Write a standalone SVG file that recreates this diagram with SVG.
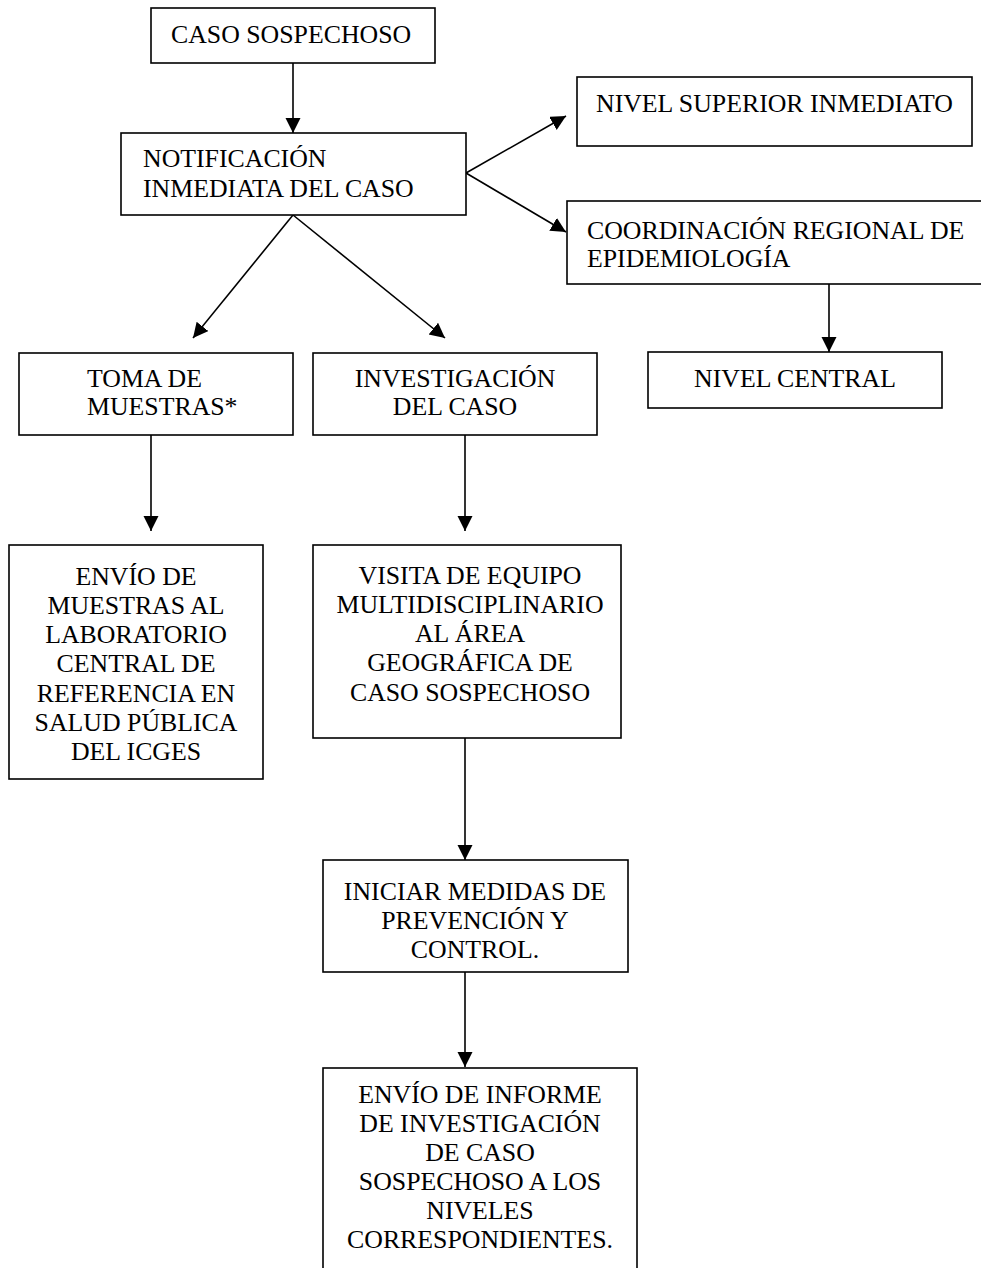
<svg xmlns="http://www.w3.org/2000/svg" width="981" height="1268" viewBox="0 0 981 1268">
<style>
.box{fill:#fff;stroke:#000;stroke-width:1.6}
text{font-family:"Liberation Serif","Times New Roman",serif;font-size:25.8px;fill:#000}
.c{text-anchor:middle}
.ln{stroke:#000;stroke-width:1.6;fill:none;marker-end:url(#ah)}
</style>
<defs>
<marker id="ah" markerUnits="userSpaceOnUse" markerWidth="16" markerHeight="16" refX="15" refY="7.5" orient="auto" viewBox="0 0 16 16">
<path d="M0,0 L15,7.5 L0,15 Z" fill="#000"/>
</marker>
</defs>
<rect width="981" height="1268" fill="#fff"/>
<g id="connectors">
<line class="ln" x1="293" y1="63" x2="293" y2="133"/>
<line class="ln" x1="466" y1="173" x2="566" y2="116"/>
<line class="ln" x1="466" y1="173" x2="566" y2="232"/>
<line class="ln" x1="829" y1="284" x2="829" y2="352"/>
<line class="ln" x1="293" y1="215" x2="193" y2="338"/>
<line class="ln" x1="293" y1="215" x2="445" y2="338"/>
<line class="ln" x1="151" y1="435" x2="151" y2="531"/>
<line class="ln" x1="465" y1="435" x2="465" y2="531"/>
<line class="ln" x1="465" y1="738" x2="465" y2="860"/>
<line class="ln" x1="465" y1="972" x2="465" y2="1067"/>
</g>
<g id="caso">
<rect class="box" x="151" y="8" width="284" height="55"/>
<text x="171" y="43">CASO SOSPECHOSO</text>
</g>
<g id="notificacion">
<rect class="box" x="121" y="133" width="345" height="82"/>
<text x="143" y="167">NOTIFICACIÓN</text>
<text x="143" y="197">INMEDIATA DEL CASO</text>
</g>
<g id="nivel-superior">
<rect class="box" x="577" y="77" width="395" height="69"/>
<text x="596" y="112">NIVEL SUPERIOR INMEDIATO</text>
</g>
<g id="coordinacion">
<rect class="box" x="567" y="201" width="416" height="83"/>
<text x="587" y="239">COORDINACIÓN REGIONAL DE</text>
<text x="587" y="267">EPIDEMIOLOGÍA</text>
</g>
<g id="nivel-central">
<rect class="box" x="648" y="352" width="294" height="56"/>
<text class="c" x="795" y="387">NIVEL CENTRAL</text>
</g>
<g id="toma">
<rect class="box" x="19" y="353" width="274" height="82"/>
<text x="87" y="387">TOMA DE</text>
<text x="87" y="415">MUESTRAS*</text>
</g>
<g id="investigacion">
<rect class="box" x="313" y="353" width="284" height="82"/>
<text class="c" x="455" y="387">INVESTIGACIÓN</text>
<text class="c" x="455" y="415">DEL CASO</text>
</g>
<g id="envio-muestras">
<rect class="box" x="9" y="545" width="254" height="234"/>
<text class="c" x="136" y="585">ENVÍO DE</text>
<text class="c" x="136" y="614">MUESTRAS AL</text>
<text class="c" x="136" y="643">LABORATORIO</text>
<text class="c" x="136" y="672">CENTRAL DE</text>
<text class="c" x="136" y="702">REFERENCIA EN</text>
<text class="c" x="136" y="731">SALUD PÚBLICA</text>
<text class="c" x="136" y="760">DEL ICGES</text>
</g>
<g id="visita">
<rect class="box" x="313" y="545" width="308" height="193"/>
<text class="c" x="470" y="584">VISITA DE EQUIPO</text>
<text class="c" x="470" y="613">MULTIDISCIPLINARIO</text>
<text class="c" x="470" y="642">AL ÁREA</text>
<text class="c" x="470" y="671">GEOGRÁFICA DE</text>
<text class="c" x="470" y="701">CASO SOSPECHOSO</text>
</g>
<g id="iniciar">
<rect class="box" x="323" y="860" width="305" height="112"/>
<text class="c" x="475" y="900">INICIAR MEDIDAS DE</text>
<text class="c" x="475" y="929">PREVENCIÓN Y</text>
<text class="c" x="475" y="958">CONTROL.</text>
</g>
<g id="envio-informe">
<rect class="box" x="323" y="1068" width="314" height="215"/>
<text class="c" x="480" y="1103">ENVÍO DE INFORME</text>
<text class="c" x="480" y="1132">DE INVESTIGACIÓN</text>
<text class="c" x="480" y="1161">DE CASO</text>
<text class="c" x="480" y="1190">SOSPECHOSO A LOS</text>
<text class="c" x="480" y="1219">NIVELES</text>
<text class="c" x="480" y="1248">CORRESPONDIENTES.</text>
</g>
</svg>
